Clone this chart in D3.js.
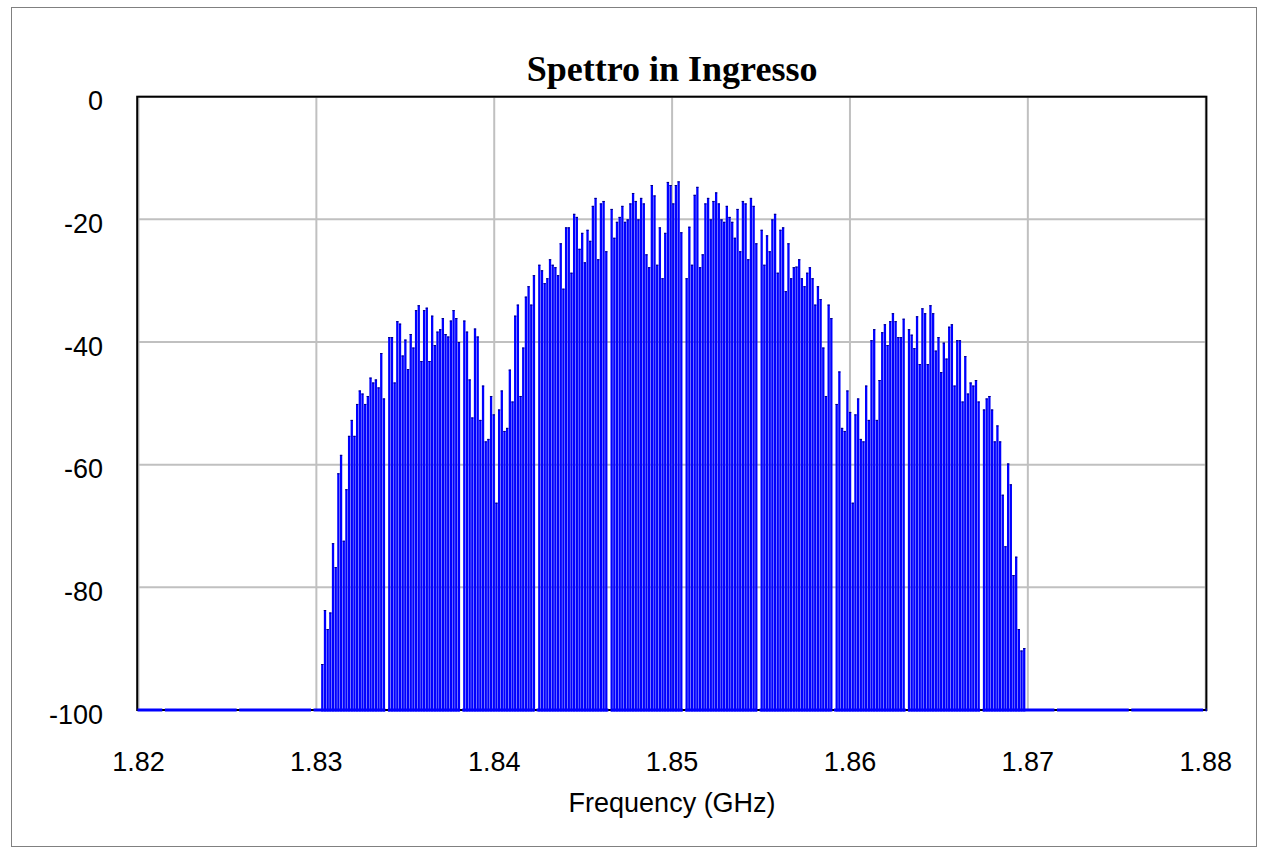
<!DOCTYPE html>
<html>
<head>
<meta charset="utf-8">
<script src="https://cdn.jsdelivr.net/npm/d3@7"></script>
<style>
  body { margin: 0; background: #fff; }
  svg text { font-family: 'Liberation Sans', Arial, sans-serif; fill: #000; }
</style>
</head>
<body>
<script>
// spectral lines, dB, read left to right off the picture (tone spacing 40 MHz / 256)
const levels = [
  -92.5, -83.7, -86.8, -84.1, -72.8, -76.7, -61.4, -58.4, -72.4, -64.0, -55.3, -52.7,
  -55.3, -50.1, -47.9, -48.4, -50.1, -48.8, -45.8, -46.6, -46.1, -47.4, -41.8, -49.2,
  -39.2, -39.2, -46.6, -36.6, -37.0, -42.2, -39.6, -44.4, -38.7, -40.9, -34.8, -34.0,
  -43.1, -34.8, -34.4, -43.1, -35.7, -40.5, -38.3, -37.9, -36.1, -38.7, -39.1, -36.5,
  -34.8, -36.1, -40.0,
  -36.5, -38.3, -46.1, -52.3, -37.8, -39.1, -52.7, -47.1, -56.2, -55.8, -48.8, -51.8,
  -66.2, -51.0, -47.9, -54.5, -54.0, -44.5, -49.7, -35.7, -33.9, -48.8, -40.9, -32.6,
  -30.9, -33.9,
  -29.1, -27.4, -28.3, -30.4, -29.6, -26.5, -27.4, -27.8, -29.1, -23.9, -31.3, -21.3,
  -21.3, -28.7, -19.1, -19.6, -24.8, -22.2, -27.0, -21.7, -23.5, -17.8, -16.5, -26.5,
  -17.4, -17.0, -25.2,
  -18.3, -23.0, -20.4, -19.6, -17.8, -20.4, -20.0, -17.4, -15.7, -17.0, -20.0, -16.5,
  -17.4, -25.7, -27.8, -14.4, -16.1, -27.4, -21.3, -29.6, -22.2, -13.9, -14.4, -17.4,
  -14.4, -13.8, -22.1,
  -29.6, -21.2, -27.4, -16.0, -14.7, -27.8, -25.7, -17.4, -16.5, -20.0, -17.0, -15.6,
  -17.4, -20.0, -20.4, -17.8, -19.6, -20.4, -23.0, -18.3, -25.2, -17.0, -17.4, -26.5,
  -16.5, -17.8, -23.9,
  -21.7, -27.4, -22.6, -25.2, -20.0, -19.1, -28.7, -21.7, -21.3, -31.7, -23.9, -29.6,
  -27.8, -27.7, -26.5, -29.6, -30.9, -28.7, -27.8, -29.6, -33.9, -30.9, -33.0, -40.9,
  -48.8, -33.9,
  -36.1, -50.1, -44.8, -54.0, -54.5, -47.9, -51.4, -66.2, -51.8, -49.2, -55.8, -56.2,
  -47.1, -52.7, -39.7, -37.9, -52.7, -46.2, -38.4, -37.1, -40.5, -36.6, -35.3, -36.6,
  -39.2, -39.2, -36.2,
  -37.9, -38.8, -41.0, -35.8, -43.6, -34.5, -35.3, -43.6, -34.0, -35.3, -41.4, -39.2,
  -44.9, -40.1, -42.7, -37.5, -37.1, -47.1, -39.7, -39.7, -49.7, -42.3, -48.4, -46.6,
  -47.1, -46.2, -49.7,
  -51.0, -49.2, -48.8, -51.0, -56.2, -53.6, -56.2, -64.9, -73.3, -59.8, -63.2, -78.0,
  -75.0, -86.8, -90.3, -89.9
];
const centerFreq = 1.85;        // GHz
const toneStep = 0.04 / 256;    // GHz
const centerTone = 127;         // index of the tone at 1.85 GHz
const xTicks = [1.82, 1.83, 1.84, 1.85, 1.86, 1.87, 1.88];
const yTicks = [0, -20, -40, -60, -80, -100];
const titleText = 'Spettro in Ingresso';
const xTitle = 'Frequency (GHz)';

const W = 1265, H = 854;
const svg = d3.select('body').append('svg').attr('width', W).attr('height', H);

const x = d3.scaleLinear().domain([1.82, 1.88]).range([138.5, 1205.7]);
const y = d3.scaleLinear().domain([-100, 0]).range([710, 96.7]);

const spectrum = levels.map(function (v, i) {
  return { f: centerFreq + (i - centerTone) * toneStep, db: v };
});

// outer frame
svg.append('rect')
  .attr('x', 11.5).attr('y', 7.5)
  .attr('width', 1245).attr('height', 839)
  .attr('fill', 'none').attr('stroke', '#808080').attr('stroke-width', 1);

// grid
const grid = svg.append('g');
grid.selectAll('.gx').data(xTicks).enter().append('line')
  .attr('x1', d => x(d)).attr('x2', d => x(d))
  .attr('y1', y(0)).attr('y2', y(-100))
  .attr('stroke', '#c0c0c0').attr('stroke-width', 2);
grid.selectAll('.gy').data(yTicks).enter().append('line')
  .attr('x1', x(1.82)).attr('x2', x(1.88))
  .attr('y1', d => y(d)).attr('y2', d => y(d))
  .attr('stroke', '#c0c0c0').attr('stroke-width', 2);

// plot box
svg.append('rect')
  .attr('x', x(1.82) - 1.3).attr('y', y(0))
  .attr('width', x(1.88) - x(1.82) + 2).attr('height', y(-100) - y(0))
  .attr('fill', 'none').attr('stroke', '#000').attr('stroke-width', 2);

// the original renderer put the lines on a raster slightly finer than the
// tone spacing, so a white break shows up about every 27 tones; mimic it
const pitch = x(centerFreq + toneStep) - x(centerFreq);
const cell = pitch * 26.75 / 27.75;
const phase = x(centerFreq - (centerTone - 23) * toneStep) - 0.48 * cell;
function snap(px) {
  return phase + Math.round((px - phase) / cell) * cell + 1;
}
const barW = 2.3;

// floor line at -100 dB, broken on the same raster
const firstGap = (snap(x(centerFreq - (centerTone - 23) * toneStep)) + barW +
  snap(x(centerFreq - (centerTone - 24) * toneStep))) / 2;
const period = 27.75 * cell;
const gapW = 2.5;
const lead = ((firstGap - x(1.82)) % period + period) % period - gapW / 2;
svg.append('line')
  .attr('x1', x(1.82) - 1).attr('x2', x(1.88) + 1)
  .attr('y1', y(-100)).attr('y2', y(-100))
  .attr('stroke', '#0000ff').attr('stroke-width', 3)
  .attr('stroke-dasharray', (period - gapW) + ' ' + gapW)
  .attr('stroke-dashoffset', period - gapW - lead - 1);

const bars = svg.append('g');
bars.selectAll('rect').data(spectrum).enter().append('rect')
  .attr('x', d => snap(x(d.f)))
  .attr('y', d => y(d.db))
  .attr('width', barW)
  .attr('height', d => y(-100) + 1.5 - y(d.db))
  .attr('fill', '#0000ff');
bars.selectAll('line').data(spectrum).enter().append('line')
  .attr('x1', d => snap(x(d.f))).attr('x2', d => snap(x(d.f)) + barW)
  .attr('y1', d => y(d.db) + 0.5).attr('y2', d => y(d.db) + 0.5)
  .attr('stroke', '#00007a').attr('stroke-width', 1);

// tick labels
svg.selectAll('.xl').data(xTicks).enter().append('text')
  .attr('x', d => x(d)).attr('y', 771)
  .attr('text-anchor', 'middle')
  .style('font-size', '27px')
  .text(d => d3.format('.2f')(d));
svg.selectAll('.yl').data(yTicks).enter().append('text')
  .attr('x', 103).attr('y', d => y(d) + 13.5)
  .attr('text-anchor', 'end')
  .style('font-size', '27px')
  .text(d => d);

svg.append('text')
  .attr('x', (x(1.82) + x(1.88)) / 2).attr('y', 812)
  .attr('text-anchor', 'middle')
  .style('font-size', '27px')
  .text(xTitle);

svg.append('text')
  .attr('x', (x(1.82) + x(1.88)) / 2).attr('y', 81)
  .attr('text-anchor', 'middle')
  .style('font-family', "'Liberation Serif', 'Times New Roman', serif")
  .style('font-weight', 'bold')
  .style('font-size', '36px')
  .text(titleText);
</script>
</body>
</html>
